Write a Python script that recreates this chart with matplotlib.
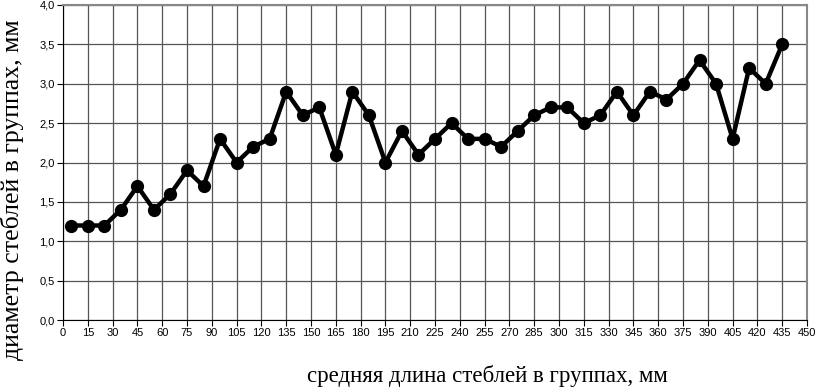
import matplotlib
matplotlib.use("Agg")
import matplotlib.pyplot as plt
import numpy as np

# средняя длина стеблей (середины групп), мм
length = [5, 15, 25, 35, 45, 55, 65, 75, 85, 95, 105, 115, 125, 135, 145,
          155, 165, 175, 185, 195, 205, 215, 225, 235, 245, 255, 265, 275,
          285, 295, 305, 315, 325, 335, 345, 355, 365, 375, 385, 395, 405,
          415, 425, 435]
# диаметр стеблей, мм
diam = [1.2, 1.2, 1.2, 1.4, 1.7, 1.4, 1.6, 1.9, 1.7, 2.3, 2.0, 2.2, 2.3, 2.9,
        2.6, 2.7, 2.1, 2.9, 2.6, 2.0, 2.4, 2.1, 2.3, 2.5, 2.3, 2.3, 2.2, 2.4,
        2.6, 2.7, 2.7, 2.5, 2.6, 2.9, 2.6, 2.9, 2.8, 3.0, 3.3, 3.0, 2.3, 3.2,
        3.0, 3.5]

xticks = np.arange(0, 451, 15)
yticks = np.arange(0, 4.01, 0.5)

fig = plt.figure(figsize=(8.17, 3.88), dpi=100)
ax = fig.add_axes([63 / 817, 1 - 320 / 388, 744 / 817, 315 / 388])

ax.plot(length, diam, color="black", lw=3.2, marker="o", ms=8.5,
        solid_joinstyle="round", zorder=3)

ax.set_xlim(0, 450)
ax.set_ylim(0, 4.0)
ax.set_xticks(xticks)
ax.set_yticks(yticks)
ax.set_yticklabels([f"{v:.1f}".replace(".", ",") for v in yticks])
ax.grid(True, color="#555555", lw=0.9)
ax.set_axisbelow(True)

for lab in ax.get_xticklabels() + ax.get_yticklabels():
    lab.set_family("Liberation Sans")
    lab.set_fontsize(8)
ax.tick_params(direction="out", length=4, width=0.8, pad=2)

ax.spines["left"].set_color("black")
ax.spines["bottom"].set_color("black")
ax.spines["top"].set_color("#888888")
ax.spines["right"].set_color("#888888")
ax.spines["top"].set_linewidth(1.5)
ax.spines["right"].set_linewidth(1.5)

fig.text(487 / 817, 1 - 376 / 388, "средняя длина стеблей в группах, мм",
         family="Liberation Serif", fontsize=16.5, ha="center", va="center")
fig.text(12 / 817, 1 - 190 / 388, "диаметр стеблей в группах, мм",
         family="Liberation Serif", fontsize=18.5, rotation=90,
         ha="center", va="center")

fig.savefig("out.png", dpi=100)
